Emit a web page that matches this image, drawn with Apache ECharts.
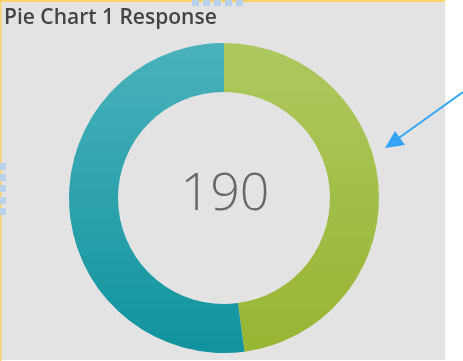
<!DOCTYPE html>
<html>
<head>
<meta charset="utf-8">
<script src="https://cdn.jsdelivr.net/npm/echarts@6/dist/echarts.min.js"></script>
<style>
  html, body { margin: 0; padding: 0; background: #ffffff; }
  #chart { width: 463px; height: 361px; }
</style>
</head>
<body>
<div id="chart"></div>
<script>
// Response breakdown shown in the donut
const categories = ['Response A', 'Response B'];
const values = [91, 99];
const titleText = 'Pie Chart 1 Response';

// Each slice gets a soft vertical gradient
const sliceColors = [
  ['#aec85f', '#97b532'],
  ['#4ab2bc', '#10939e']
];

const total = values.reduce((a, b) => a + b, 0);

const chart = echarts.init(document.getElementById('chart'), null, { renderer: 'canvas' });

const handleColor = '#b9d1ea';
const handles = [];
[192, 203, 214, 225, 236].forEach(x => {
  handles.push({ type: 'rect', shape: { x: x, y: 0, width: 7, height: 6 }, style: { fill: handleColor }, z: 10 });
});
[163, 174, 185, 197, 208].forEach(y => {
  handles.push({ type: 'rect', shape: { x: 0, y: y, width: 6, height: 7 }, style: { fill: handleColor }, z: 10 });
});

chart.setOption({
  animation: false,
  backgroundColor: '#ffffff',
  graphic: [
    // panel background
    { type: 'rect', shape: { x: 0, y: 0, width: 445, height: 360 }, style: { fill: '#e3e3e3' }, z: -10 },
    // selection frame
    { type: 'rect', shape: { x: 0, y: 0, width: 445, height: 2 }, style: { fill: '#fdd26b' }, z: 5 },
    { type: 'rect', shape: { x: 0, y: 0, width: 1.5, height: 361 }, style: { fill: '#fdd26b' }, z: 5 },
    ...handles,
    // title
    {
      type: 'text', left: 4, top: 8, z: 20,
      style: { text: titleText, fill: '#444444', font: '600 21px "Open Sans", sans-serif' }
    },
    // total in the middle of the ring
    {
      type: 'text', z: 20,
      style: {
        text: String(total), x: 225, y: 195, align: 'center', verticalAlign: 'middle',
        fill: '#676767', font: '300 52px "Open Sans", sans-serif'
      }
    },
    // callout arrow
    {
      type: 'line', z: 20,
      shape: { x1: 463, y1: 92, x2: 396, y2: 140 },
      style: { stroke: '#35a4f4', lineWidth: 2 }
    },
    {
      type: 'polygon', z: 20,
      shape: { points: [[385, 148], [395, 131], [405, 145]] },
      style: { fill: '#35a4f4' }
    }
  ],
  series: [{
    type: 'pie',
    center: [224, 198],
    radius: [106, 155],
    startAngle: 90,
    clockwise: true,
    label: { show: false },
    labelLine: { show: false },
    emphasis: { disabled: true },
    itemStyle: { borderWidth: 0 },
    data: categories.map((name, i) => ({
      name: name,
      value: values[i],
      itemStyle: {
        color: new echarts.graphic.LinearGradient(0, 0, 0, 1, [
          { offset: 0, color: sliceColors[i][0] },
          { offset: 1, color: sliceColors[i][1] }
        ])
      }
    }))
  }]
});
</script>
</body>
</html>
